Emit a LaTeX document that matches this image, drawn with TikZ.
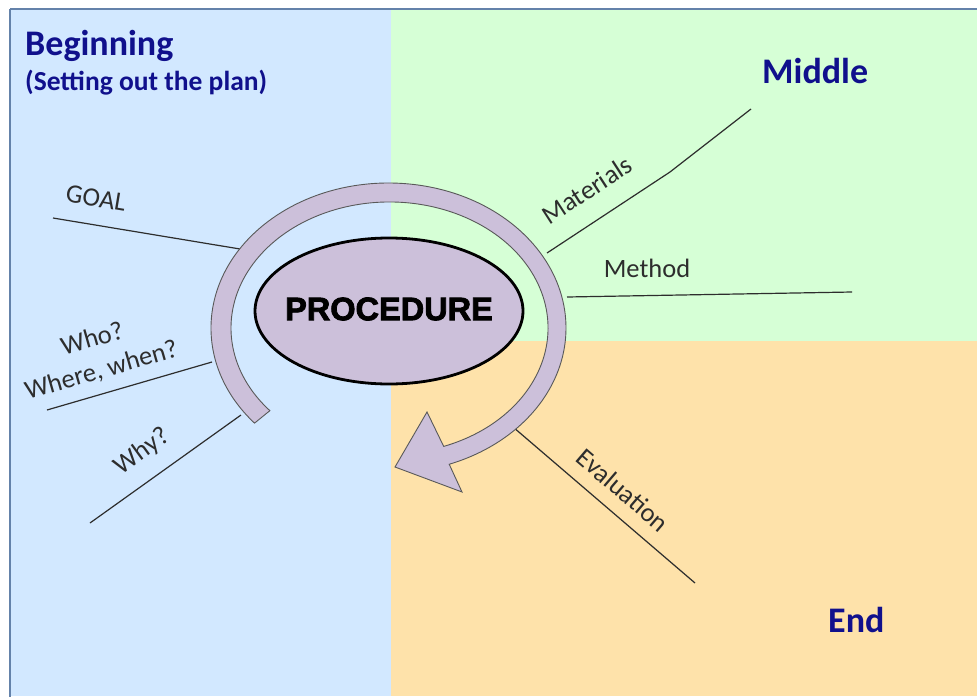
\documentclass[tikz,border=0pt]{standalone}
\usepackage{fontspec}
\setmainfont{Carlito}
\newfontface\procfont{Liberation Sans Bold}[RawFeature={embolden=2.5}]
\usetikzlibrary{shapes.geometric}
\definecolor{bgblue}{RGB}{210,232,255}
\definecolor{bggreen}{RGB}{214,255,214}
\definecolor{bgorange}{RGB}{254,226,170}
\definecolor{lav}{RGB}{204,192,218}
\definecolor{titleblue}{RGB}{16,16,140}
\definecolor{labelgray}{RGB}{45,45,45}
\definecolor{framecol}{RGB}{100,130,170}
\begin{document}
\begin{tikzpicture}[x=1pt,y=-1pt,
  titletext/.style={font=\fontsize{36}{40}\selectfont\bfseries, text=titleblue, anchor=base west, inner sep=0},
  subtitletext/.style={font=\fontsize{27.5}{32}\selectfont\bfseries, text=titleblue, anchor=base west, inner sep=0},
  lbltext/.style={font=\fontsize{26.5}{32.5}\selectfont, text=labelgray, inner sep=0, align=center},
  spoke/.style={draw=labelgray, line width=1.2pt},
  cyclearrow/.style={fill=lav, draw=black!65, line width=0.9pt, line join=miter},
  proc/.style={ellipse, draw=black, line width=2.8pt, fill=lav, minimum width=268, minimum height=146, inner sep=0},
  proctext/.style={font=\fontsize{32.5}{36}\selectfont\procfont, inner sep=0}
  ]
\useasboundingbox (0,0) rectangle (977,696);
\fill[white] (0,0) rectangle (977,696);
% background panels
\fill[bgblue] (10,9) rectangle (391,696);
\fill[bggreen] (391,9) rectangle (977,341);
\fill[bgorange] (391,341) rectangle (977,696);
\draw[framecol, line width=1.6pt] (10,9) -- (990,9);
\draw[framecol, line width=1.6pt] (10,9) -- (10,710);

% titles
\node[titletext] (beg) at (25,55) {Beginning};
\node[subtitletext] (begsub) at (25,90) {(Setting out the plan)};
\node[titletext] (mid) at (762,83) {Middle};
\node[titletext] (endt) at (828,632) {End};

% spoke end points
\coordinate (goalA) at (53,218);
\coordinate (goalB) at (240,249);
\coordinate (whoA) at (47,410);
\coordinate (whoB) at (212,362);
\coordinate (whyA) at (90,523);
\coordinate (whyB) at (241,415);
\coordinate (matA) at (547,253);
\coordinate (matK) at (670,172);
\coordinate (matB) at (751,109);
\coordinate (metA) at (567,297);
\coordinate (metB) at (852,292);
\coordinate (evaA) at (513,427);
\coordinate (evaB) at (695,583);

\draw[spoke] (goalA) -- (goalB);
\draw[spoke] (whoA) -- (whoB);
\draw[spoke] (whyA) -- (whyB);
\draw[spoke] (matA) -- (matK) -- (matB);
\draw[spoke] (metA) -- (metB);
\draw[spoke] (evaA) -- (evaB);

% circular arrow
\coordinate (arcc) at (388.5,328);
\coordinate (arcci) at (389.5,328);
\coordinate (barbout) at (462,492);
\coordinate (tip) at (395,467);
\coordinate (barbin) at (427,412);
\path[cyclearrow]
  ([shift={(139:177.5 and 145)}]arcc)
  arc[start angle=139, end angle=430, x radius=177.5, y radius=145]
  -- (barbout) -- (tip) -- (barbin)
  -- ([shift={(430:158.5 and 126)}]arcci)
  arc[start angle=430, end angle=139, x radius=158.5, y radius=126]
  -- cycle;

% central ellipse
\node[proc] (procedure) at (389,311) {};
\node[proctext] (proclabel) at (389,309) {PROCEDURE};

% labels
\node[lbltext, rotate=-9.4] (goal) at (96,198) {GOAL};
\node[lbltext, rotate=16] (who) at (97,355) {Who?\\Where, when?};
\node[lbltext, rotate=36] (why) at (142,452) {Why?};
\node[lbltext, rotate=33] (mat) at (587,190) {Materials};
\node[lbltext] (met) at (647,268) {Method};
\node[lbltext, rotate=-40.6] (eva) at (623,490) {Evaluation};
\end{tikzpicture}
\end{document}
